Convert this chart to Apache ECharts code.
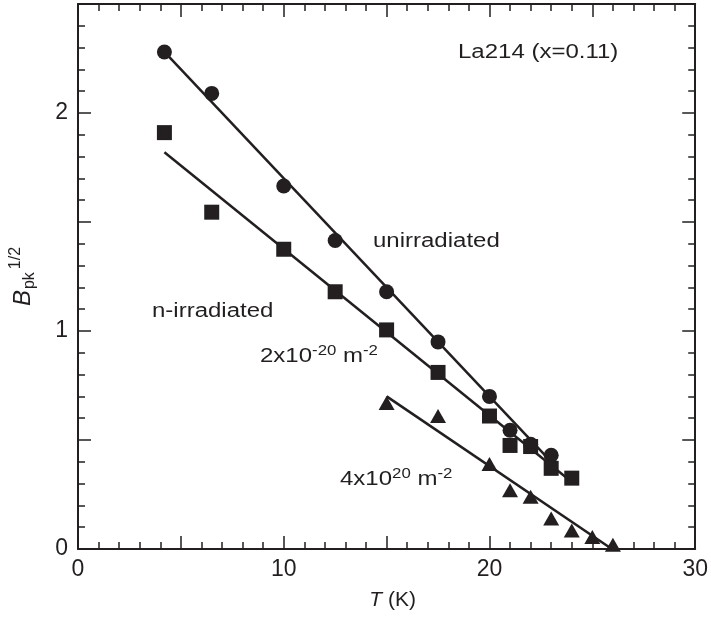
<!DOCTYPE html>
<html>
<head>
<meta charset="utf-8">
<script src="https://cdn.jsdelivr.net/npm/echarts@6/dist/echarts.min.js"></script>
<style>
  html, body { margin: 0; padding: 0; background: #fff; }
  #chart { width: 711px; height: 619px; }
</style>
</head>
<body>
<div id="chart"></div>
<script>
// data
const unirrT = [4.2, 6.5, 10, 12.5, 15, 17.5, 20, 21, 22, 23]
const unirrB = [2.28, 2.09, 1.665, 1.415, 1.18, 0.95, 0.70, 0.545, 0.48, 0.43]

const irr2T = [4.2, 6.5, 10, 12.5, 15, 17.5, 20, 21, 22, 23, 24]
const irr2B = [1.91, 1.545, 1.375, 1.18, 1.005, 0.81, 0.61, 0.475, 0.47, 0.37, 0.325]

const irr4T = [15, 17.5, 20, 21, 22, 23, 24, 25, 26]
const irr4B = [0.67, 0.61, 0.39, 0.27, 0.24, 0.14, 0.085, 0.055, 0.02]

// straight-line fits (end points)
const fitUnirrT = [4.2, 23.2]
const fitUnirrB = [2.28, 0.38]
const fitIrr2T = [4.2, 23.7]
const fitIrr2B = [1.82, 0.33]
const fitIrr4T = [15, 25.95]
const fitIrr4B = [0.70, 0.0]

const xTickLabels = [0, 10, 20, 30]
const yTickLabels = [0, 1, 2]

const ink = '#231f20'
const font = 'Liberation Sans, Arial, Helvetica, sans-serif'
// lettering in the original is a little wider than Arial
const stretch = 1.2

const pairs = (xs, ys) => xs.map((x, i) => [x, ys[i]])
const near = (v, list) => list.some(t => Math.abs(v - t) < 1e-6)

const chart = echarts.init(document.getElementById('chart'), null, { renderer: 'canvas' })

const tickAxis = {
  axisLine: { show: true, onZero: false, lineStyle: { color: ink, width: 2 } },
  axisTick: { show: true, inside: true, length: 13, lineStyle: { color: ink, width: 1.5 } },
  minorTick: { show: true, splitNumber: 5, length: 7, lineStyle: { color: ink, width: 1.5 } },
  splitLine: { show: false },
  minorSplitLine: { show: false }
}

const fitLine = (xs, ys) => ({
  type: 'line',
  data: pairs(xs, ys),
  symbol: 'none',
  lineStyle: { color: ink, width: 2.5 },
  z: 2,
  silent: true
})

const marks = (xs, ys, symbol, size) => ({
  type: 'scatter',
  data: pairs(xs, ys),
  symbol: symbol,
  symbolSize: size,
  itemStyle: { color: ink, opacity: 1 },
  z: 3
})

const note = (x, y, text, rich) => ({
  type: 'text', x: x, y: y, scaleX: stretch,
  style: {
    text: text, font: '20px ' + font, fill: ink, textVerticalAlign: 'middle',
    rich: rich
  }
})

const supRich = {
  n: { fontSize: 20, fontFamily: font, fill: ink, lineHeight: 24 },
  p: { fontSize: 14, fontFamily: font, fill: ink, verticalAlign: 'top', lineHeight: 24 }
}

chart.setOption({
  animation: false,
  backgroundColor: '#fff',
  textStyle: { fontFamily: font, color: ink },
  grid: { left: 75, right: 14, top: 4, bottom: 70 },
  xAxis: [
    Object.assign({
      type: 'value', min: 0, max: 30, interval: 5, position: 'bottom',
      axisLabel: {
        fontSize: 23, color: ink, fontFamily: font, margin: 9,
        formatter: v => near(v, xTickLabels) ? String(v) : ''
      },
      name: '{i|T} (K)',
      nameLocation: 'middle',
      nameGap: 41,
      nameTextStyle: {
        fontSize: 21, color: ink, fontFamily: font, padding: [0, 0, 0, 12],
        rich: { i: { fontSize: 21, fontStyle: 'italic', fontFamily: font, color: ink } }
      }
    }, tickAxis),
    Object.assign({
      type: 'value', min: 0, max: 30, interval: 5, position: 'top',
      axisLabel: { show: false }
    }, tickAxis)
  ],
  yAxis: [
    Object.assign({
      type: 'value', min: 0, max: 2.5, interval: 0.5, position: 'left',
      axisLabel: {
        fontSize: 23, color: ink, fontFamily: font, margin: 10,
        formatter: v => near(v, yTickLabels) ? String(Math.round(v)) : ''
      },
      name: '{b|B}{s|pk}{p|1/2}',
      nameLocation: 'middle',
      nameGap: 40,
      nameRotate: 90,
      nameTextStyle: {
        color: ink,
        rich: {
          b: { fontSize: 24, fontStyle: 'italic', fontFamily: font, color: ink, lineHeight: 30 },
          s: { fontSize: 16, fontFamily: font, color: ink, verticalAlign: 'bottom', lineHeight: 30, padding: [0, 0, 0, 1] },
          p: { fontSize: 16, fontFamily: font, color: ink, verticalAlign: 'top', lineHeight: 30, padding: [0, 0, 0, 3] }
        }
      }
    }, tickAxis),
    Object.assign({
      type: 'value', min: 0, max: 2.5, interval: 0.5, position: 'right',
      axisLabel: { show: false }
    }, tickAxis)
  ],
  series: [
    fitLine(fitUnirrT, fitUnirrB),
    fitLine(fitIrr2T, fitIrr2B),
    fitLine(fitIrr4T, fitIrr4B),
    marks(unirrT, unirrB, 'circle', 15),
    marks(irr2T, irr2B, 'rect', 15),
    marks(irr4T, irr4B, 'triangle', [16, 14])
  ],
  graphic: [
    note(458, 52, 'La214 (x=0.11)'),
    note(373, 241, 'unirradiated'),
    note(152, 311, 'n-irradiated'),
    note(260, 356, '{n|2x10}{p|-20}{n| m}{p|-2}', supRich),
    note(340, 479, '{n|4x10}{p|20}{n| m}{p|-2}', supRich)
  ]
})
</script>
</body>
</html>
